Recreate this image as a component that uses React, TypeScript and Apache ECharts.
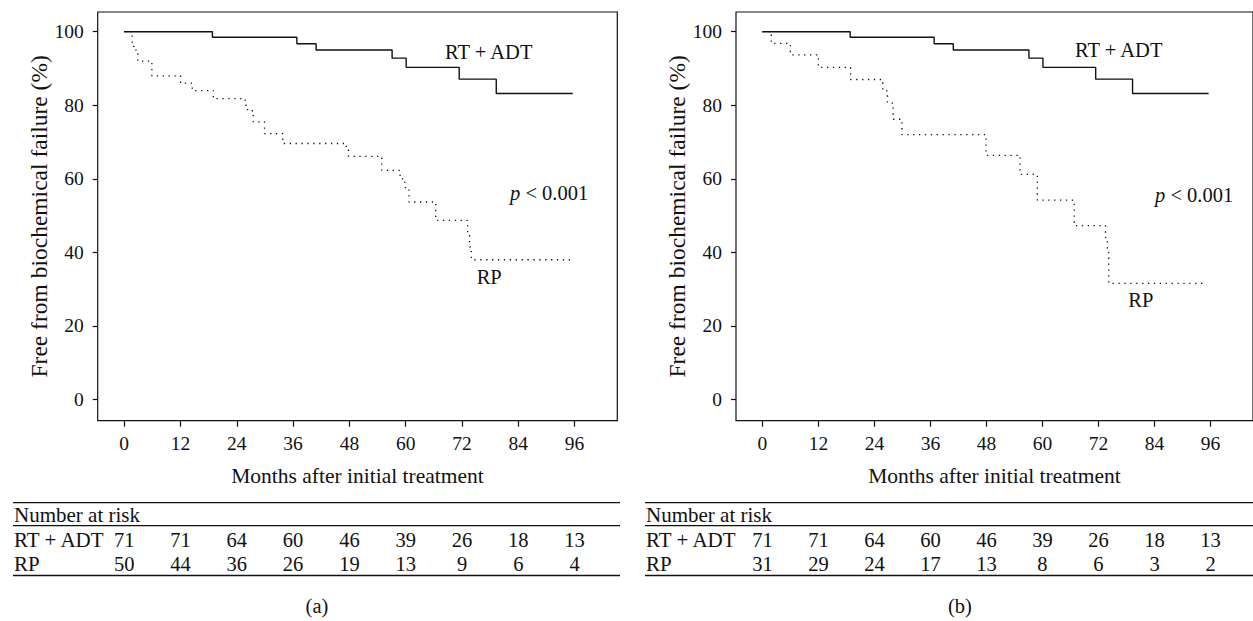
import React, { useEffect, useRef } from "react";
import * as echarts from "echarts";

// ---------- data ----------
const monthTicks = [0, 12, 24, 36, 48, 60, 72, 84, 96];
const pctTicks = [0, 20, 40, 60, 80, 100];

// RT + ADT (same cohort in both panels)
const rtAdtMonths = [0, 18.8, 36.8, 40.9, 57.1, 60.1, 71.4, 79.3, 95.6];
const rtAdtFree = [100, 98.5, 96.7, 95.0, 92.8, 90.3, 87.1, 83.2, 83.2];

// RP, panel (a)
const rpAMonths = [0, 1.7, 2.5, 2.9, 5.9, 12.0, 14.5, 19.0, 25.8, 26.3, 27.5, 29.9, 33.8, 47.3, 47.8, 54.9, 58.8, 59.8, 60.7, 66.4, 73.2, 73.6, 74.0, 95.2];
const rpAFree = [100, 96.0, 94.0, 92.0, 88.0, 86.0, 84.0, 81.8, 80.0, 78.5, 75.5, 72.3, 69.6, 68.8, 66.1, 62.3, 60.0, 57.6, 53.7, 48.7, 45.0, 41.5, 38.0, 38.0];

// RP, panel (b)
const rpBMonths = [0, 1.9, 6.0, 12.0, 18.9, 25.8, 26.8, 28.0, 29.9, 47.9, 55.2, 58.9, 66.8, 73.5, 73.9, 74.2, 94.9];
const rpBFree = [100, 96.8, 93.7, 90.3, 87.0, 83.9, 80.6, 76.2, 72.0, 66.4, 61.2, 54.2, 47.3, 44.0, 40.0, 31.6, 31.6];

// numbers at risk
const atRiskRtAdt = [71, 71, 64, 60, 46, 39, 26, 18, 13];
const atRiskRpA = [50, 44, 36, 26, 19, 13, 9, 6, 4];
const atRiskRpB = [31, 29, 24, 17, 13, 8, 6, 3, 2];

const groupNames = ["RT + ADT", "RP"];
const xTitle = "Months after initial treatment";
const yTitle = "Free from biochemical failure (%)";
const panelLabels = ["(a)", "(b)"];

// ---------- layout / style ----------
const FONT = "Liberation Serif";
const INK = "#111";
const GRID_TOP = 12;
const GRID_H = 408.7;
const GRID_W = 519.6;
const GRID_LEFTS = [97.7, 736];
const X_MIN = -5.65;
const X_MAX = 105.1;
const Y_MIN = -5.75;
const Y_MAX = 105.35;

const zip = (xs: number[], ys: number[]) => xs.map((x, i) => [x, ys[i]]);

function makeXAxis(gridIndex: number) {
  return {
    type: "value",
    gridIndex,
    min: X_MIN,
    max: X_MAX,
    name: xTitle,
    nameLocation: "middle",
    nameGap: 44,
    nameTextStyle: { fontFamily: FONT, fontSize: 21.5, color: INK },
    axisLine: { show: false, onZero: false },
    splitLine: { show: false },
    axisTick: {
      show: true,
      inside: false,
      length: 6,
      customValues: monthTicks,
      lineStyle: { color: INK, width: 1.2 },
    },
    axisLabel: {
      customValues: monthTicks,
      fontFamily: FONT,
      fontSize: 19.5,
      color: INK,
      margin: 13,
    },
  };
}

function makeYAxis(gridIndex: number) {
  return {
    type: "value",
    gridIndex,
    min: Y_MIN,
    max: Y_MAX,
    name: yTitle,
    nameLocation: "middle",
    nameGap: 46,
    nameRotate: 90,
    nameTextStyle: { fontFamily: FONT, fontSize: 23.5, color: INK },
    axisLine: { show: false, onZero: false },
    splitLine: { show: false },
    axisTick: {
      show: true,
      inside: false,
      length: 5,
      customValues: pctTicks,
      lineStyle: { color: INK, width: 1.2 },
    },
    axisLabel: {
      customValues: pctTicks,
      fontFamily: FONT,
      fontSize: 19.5,
      color: INK,
      margin: 14,
    },
  };
}

function solidSeries(idx: number, xs: number[], ys: number[]) {
  return {
    type: "line",
    xAxisIndex: idx,
    yAxisIndex: idx,
    step: "end",
    symbol: "none",
    silent: true,
    lineStyle: { color: INK, width: 1.4 },
    data: zip(xs, ys),
  };
}

function dottedSeries(idx: number, xs: number[], ys: number[]) {
  return {
    type: "line",
    xAxisIndex: idx,
    yAxisIndex: idx,
    step: "end",
    symbol: "none",
    silent: true,
    lineStyle: { color: INK, width: 1.3, type: [1.3, 4.6] },
    data: zip(xs, ys),
  };
}

export default function App() {
  const ref = useRef<HTMLDivElement>(null);

  useEffect(() => {
    if (!ref.current) return;
    const chart = echarts.init(ref.current, undefined, { renderer: "svg" });

    const base: any = {
      animation: false,
      textStyle: { fontFamily: FONT },
      grid: GRID_LEFTS.map((left) => ({
        left,
        top: GRID_TOP,
        width: GRID_W,
        height: GRID_H,
        show: true,
        borderColor: INK,
        borderWidth: 1.2,
        backgroundColor: "transparent",
        containLabel: false,
      })),
      xAxis: [makeXAxis(0), makeXAxis(1)],
      yAxis: [makeYAxis(0), makeYAxis(1)],
      series: [
        solidSeries(0, rtAdtMonths, rtAdtFree),
        dottedSeries(0, rpAMonths, rpAFree),
        solidSeries(1, rtAdtMonths, rtAdtFree),
        dottedSeries(1, rpBMonths, rpBFree),
      ],
    };
    chart.setOption(base);

    // ----- annotations & number-at-risk tables -----
    const txt = (text: string, x: number, y: number, align = "left", size = 21) => ({
      type: "text",
      silent: true,
      style: {
        text,
        x,
        y,
        fill: INK,
        fontFamily: FONT,
        fontSize: size,
        textAlign: align,
        textVerticalAlign: "middle",
      },
    });
    const pText = (x: number, y: number) => ({
      type: "text",
      silent: true,
      style: {
        text: "{i|p}{n| < 0.001}",
        x,
        y,
        fill: INK,
        fontFamily: FONT,
        fontSize: 20.5,
        textAlign: "left",
        textVerticalAlign: "middle",
        rich: {
          i: { fontStyle: "italic", fontFamily: FONT, fontSize: 20.5, fill: INK },
          n: { fontFamily: FONT, fontSize: 20.5, fill: INK },
        },
      },
    });
    const hline = (x1: number, x2: number, y: number) => ({
      type: "line",
      silent: true,
      shape: { x1, y1: y, x2, y2: y },
      style: { stroke: INK, lineWidth: 1.3 },
    });

    const annot = [
      { rt: [445, 51.7], p: [510, 193.3], rp: [476.7, 276.7] },
      { rt: [1075, 50], p: [1155, 195], rp: [1128.3, 300] },
    ];
    const tables = [
      { left: 13, right: 620, rp: atRiskRpA, label: [317, 606] },
      { left: 645, right: 1253, rp: atRiskRpB, label: [960, 606] },
    ];

    const elements: any[] = [];
    [0, 1].forEach((p) => {
      const a = annot[p];
      elements.push(txt(groupNames[0], a.rt[0], a.rt[1], "left", 20.5));
      elements.push(pText(a.p[0], a.p[1]));
      elements.push(txt(groupNames[1], a.rp[0], a.rp[1], "left", 20.5));

      const t = tables[p];
      elements.push(hline(t.left, t.right, 502.7));
      elements.push(txt("Number at risk", t.left + 1, 515));
      elements.push(hline(t.left, t.right, 525.7));
      elements.push(txt(groupNames[0], t.left + 1, 540));
      elements.push(txt(groupNames[1], t.left + 1, 564));
      elements.push(hline(t.left, t.right, 575.5));
      monthTicks.forEach((m, i) => {
        const px = chart.convertToPixel({ xAxisIndex: p }, m) as number;
        elements.push(txt(String(atRiskRtAdt[i]), px, 540, "center", 20.5));
        elements.push(txt(String(t.rp[i]), px, 564, "center", 20.5));
      });
      elements.push(txt(panelLabels[p], t.label[0], t.label[1], "center", 20.5));
    });

    chart.setOption({ graphic: { elements } });

    return () => chart.dispose();
  }, []);

  return (
    <div
      ref={ref}
      style={{ position: "fixed", left: 0, top: 0, width: 1253, height: 621, background: "#fff" }}
    />
  );
}
